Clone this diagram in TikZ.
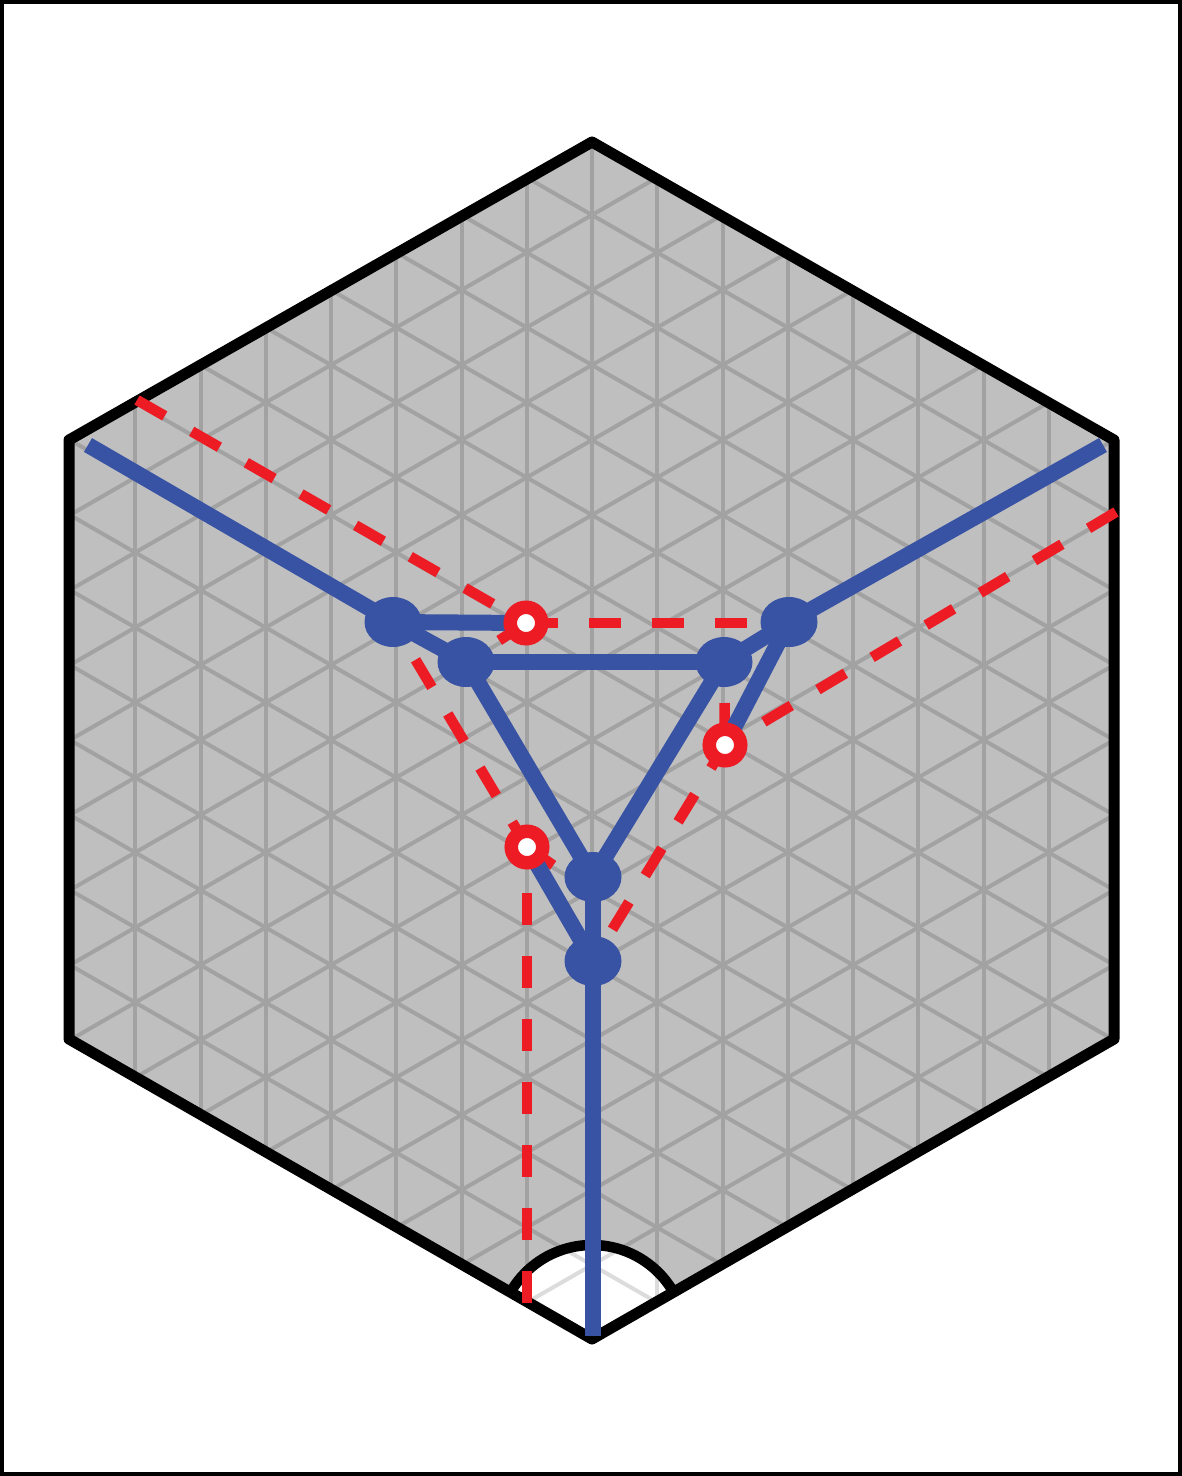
\documentclass[tikz,border=0pt]{standalone}
\usetikzlibrary{shapes.geometric}
\definecolor{hexfill}{HTML}{BFBFBF}
\definecolor{gridgray}{HTML}{A2A2A2}
\definecolor{gridlight}{HTML}{DCDCDC}
\definecolor{bluec}{HTML}{3953A4}
\definecolor{redc}{HTML}{ED1C24}
\pgfdeclarelayer{bg}
\pgfdeclarelayer{redl}
\pgfdeclarelayer{bluel}
\pgfsetlayers{bg,redl,bluel,main}
\tikzset{
  bluedot/.style={ellipse,fill=bluec,minimum width=57pt,minimum height=50pt,inner sep=0pt},
  reddot/.style={circle,draw=redc,line width=13.5pt,fill=white,minimum size=31.5pt,inner sep=0pt},
  blueedge/.style={draw=bluec,line width=16pt},
  rededge/.style={draw=redc,line width=10.5pt,dash pattern=on 32pt off 31pt},
  gridline/.style={line width=4pt},
  hexborder/.style={draw=black,line width=11pt,line join=round}
}
\newcommand{\gridlines}{%
  \foreach \k in {-8,...,8}{
    \draw[gridline] ({592+65.25*\k},0) -- ({592+65.25*\k},1476);
  }
  \foreach \k in {-16,...,16}{
    \draw[gridline] (0,{740+75*\k-340.2}) -- (1182,{740+75*\k+339.1});
    \draw[gridline] (0,{740+75*\k+340.2}) -- (1182,{740+75*\k-339.1});
  }
}
\begin{document}
\begin{tikzpicture}[x=1pt,y=-1pt]
\useasboundingbox (0,0) rectangle (1182,1476);

% nodes
\node[bluedot] (A) at (393,622) {};
\node[bluedot] (B) at (466,662) {};
\node[bluedot] (C) at (724,662) {};
\node[bluedot] (D) at (789,622) {};
\node[bluedot] (E) at (593,877) {};
\node[bluedot] (F) at (593,961) {};
\node[reddot] (R1) at (526,623) {};
\node[reddot] (R2) at (725,745) {};
\node[reddot] (R3) at (527,847) {};

% free ends
\coordinate (UL) at (88,445);
\coordinate (UR) at (1103,445);
\coordinate (BT) at (593,1336);
\coordinate (RL) at (137,400);
\coordinate (RR) at (1116,512);
\coordinate (RB) at (527,1305);
\coordinate (RE) at (593,893);

\begin{pgfonlayer}{bg}
  \coordinate (H1) at (592,142);
  \coordinate (H2) at (1114,440);
  \coordinate (H3) at (1114,1039);
  \coordinate (H4) at (592,1339);
  \coordinate (H5) at (69,1039);
  \coordinate (H6) at (69,440);
  \coordinate (S1) at (510.6,1292);
  \draw[black,line width=4pt] (2,2) rectangle (1180,1474);
  \fill[hexfill] (H1)--(H2)--(H3)--(H4)--(H5)--(H6)--cycle;
  \begin{scope}
    \clip (H1)--(H2)--(H3)--(H4)--(H5)--(H6)--cycle;
    \begin{scope}[draw=gridgray]
      \gridlines
    \end{scope}
    \fill[white] (H4) -- (S1) arc[start angle=210,end angle=330,radius=94] -- cycle;
    \begin{scope}
      \clip (H4) -- (S1) arc[start angle=210,end angle=330,radius=94] -- cycle;
      \begin{scope}[draw=gridlight]
        \gridlines
      \end{scope}
    \end{scope}
  \end{scope}
  \draw[black,line width=10.5pt] (S1) arc[start angle=210,end angle=330,radius=94];
  \draw[hexborder] (H1)--(H2)--(H3)--(H4)--(H5)--(H6)--cycle;
\end{pgfonlayer}

\begin{pgfonlayer}{redl}
  \draw[rededge] (RL) -- (R1.center);
  \draw[rededge] (R1.center) -- (D.center |- R1.center);
  \draw[rededge] (R1.center) -- (B.center);
  \draw[rededge,dash phase=19pt] (A.center) -- (R3.center);
  \draw[rededge,dash phase=5pt] (R2.center) -- (F.center);
  \draw[rededge,dash phase=53pt] (R2.center) -- (C.center);
  \draw[rededge] (RR) -- (R2.center);
  \draw[rededge] (R3.center) -- (RE);
  \draw[rededge,dash phase=17pt] (R3.center) -- (RB);
\end{pgfonlayer}

\begin{pgfonlayer}{bluel}
  \draw[blueedge] (UL) -- (A.center);
  \draw[blueedge] (A.center) -- (B.center);
  \draw[blueedge] (A.center) -- (R1.center);
  \draw[blueedge] (B.center) -- (C.center);
  \draw[blueedge] (B.center) -- (E.center);
  \draw[blueedge] (C.center) -- (E.center);
  \draw[blueedge] (C.center) -- (D.center);
  \draw[blueedge] (D.center) -- (R2.center);
  \draw[blueedge] (D.center) -- (UR);
  \draw[blueedge] (E.center) -- (F.center);
  \draw[blueedge] (F.center) -- (R3.center);
  \draw[blueedge] (F.center) -- (BT);
\end{pgfonlayer}
\end{tikzpicture}
\end{document}
